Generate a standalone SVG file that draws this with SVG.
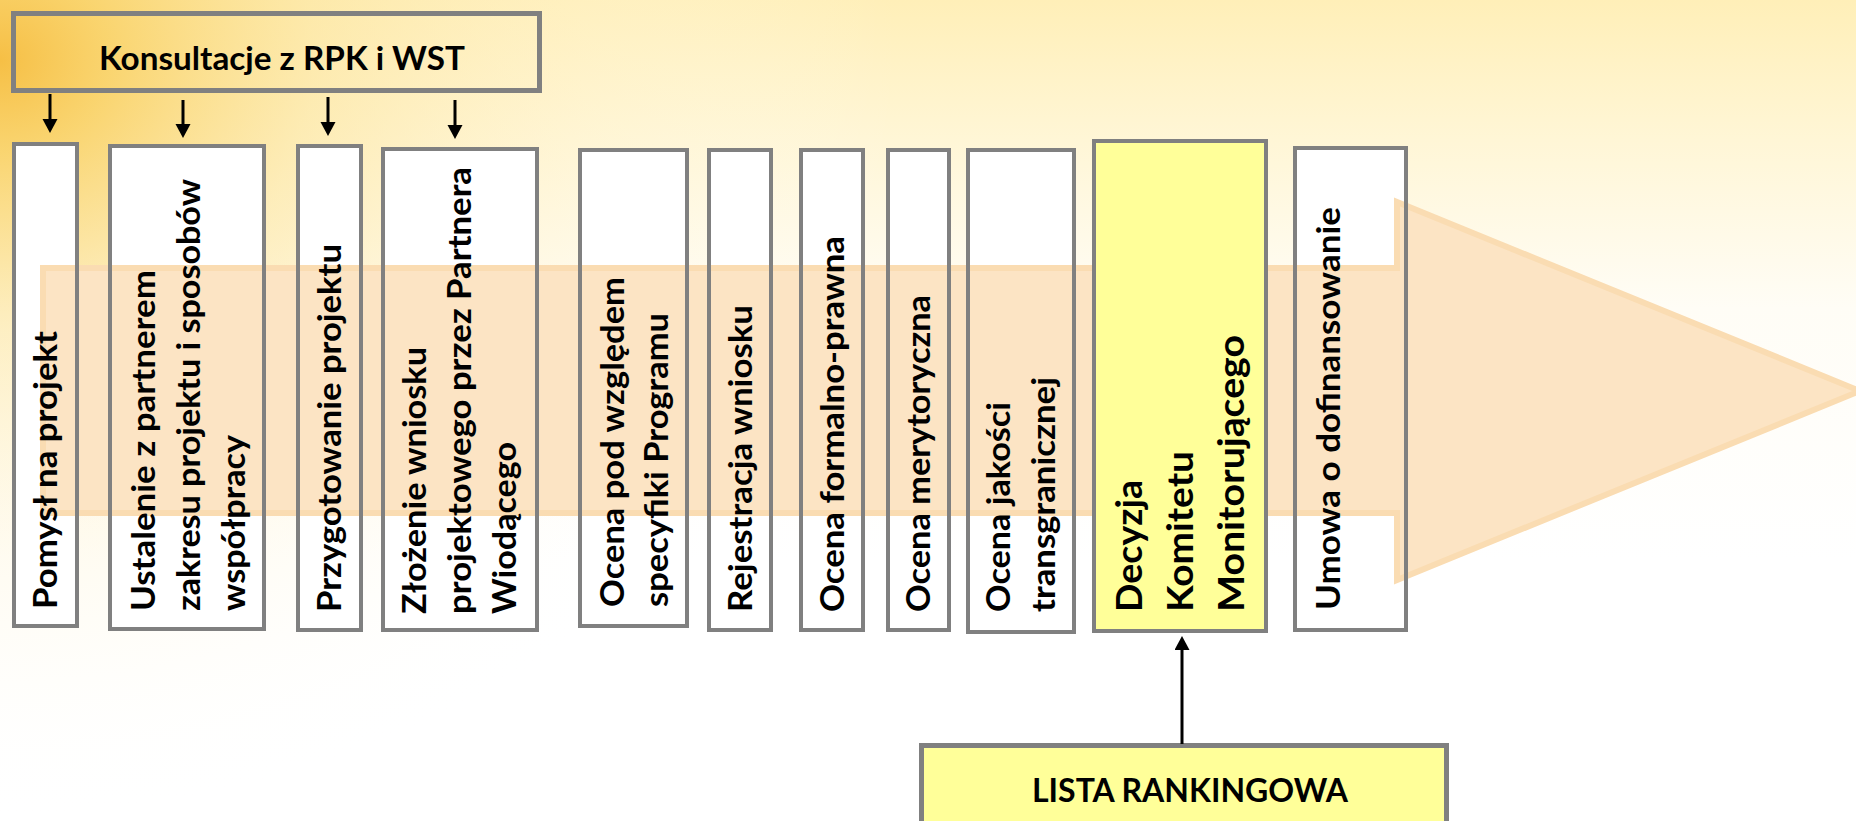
<svg xmlns="http://www.w3.org/2000/svg" width="1856" height="821" viewBox="0 0 1856 821">
  <defs>
    <linearGradient id="topBand" x1="0" y1="0" x2="0" y2="1" gradientUnits="objectBoundingBox">
      <stop offset="0" stop-color="#FFEFB8"/>
      <stop offset="0.25" stop-color="#FFF6D6"/>
      <stop offset="0.55" stop-color="#FFFDF6"/>
      <stop offset="1" stop-color="#FFFFFF"/>
    </linearGradient>
    <radialGradient id="glow" cx="0" cy="60" r="900" gradientUnits="userSpaceOnUse" gradientTransform="translate(0,60) scale(1,0.85) translate(0,-60)">
      <stop offset="0" stop-color="#F6BF45" stop-opacity="1"/>
      <stop offset="0.12" stop-color="#F9D165" stop-opacity="0.9"/>
      <stop offset="0.35" stop-color="#FCE59F" stop-opacity="0.6"/>
      <stop offset="0.65" stop-color="#FFF3D0" stop-opacity="0.3"/>
      <stop offset="1" stop-color="#FFFFFF" stop-opacity="0"/>
    </radialGradient>
    <marker id="arrow" markerUnits="userSpaceOnUse" markerWidth="16" markerHeight="16" refX="6" refY="7.5" orient="auto">
      <path d="M0,0 L14,7.5 L0,15 Z" fill="#000000"/>
    </marker>
    <style>
      .frame { fill: none; stroke: #808080; stroke-width: 4; }
      .fill { fill: #FFFFFF; }
      .yellow { fill: #FFFF99; stroke: #808080; stroke-width: 4; }
      .head { stroke: #808080; stroke-width: 5; }
      .t { font-family: Lato, "Liberation Sans", Arial, sans-serif; font-weight: bold; font-size: 33px; fill: #000000; }
      .tb { font-family: Lato, "Liberation Sans", Arial, sans-serif; font-weight: bold; font-size: 33px; fill: #000000; }
      .conn { stroke: #000000; stroke-width: 3; fill: none; }
    </style>
  </defs>

  <!-- background -->
  <rect x="0" y="0" width="1856" height="821" fill="#FFFFFF"/>
  <rect x="0" y="0" width="1856" height="560" fill="url(#topBand)"/>
  <rect x="0" y="0" width="1856" height="821" fill="url(#glow)"/>

  <!-- white box fills (under the flow arrow) -->
  <g id="box-fills" class="fill">
    <rect x="14" y="144" width="63" height="482"/>
    <rect x="110" y="146" width="154" height="483"/>
    <rect x="298" y="146" width="63" height="484"/>
    <rect x="383" y="149" width="154" height="481"/>
    <rect x="580" y="150" width="107" height="476"/>
    <rect x="709" y="150" width="62" height="480"/>
    <rect x="801" y="150" width="62" height="480"/>
    <rect x="888" y="150" width="61" height="480"/>
    <rect x="968" y="150" width="106" height="482"/>
    <rect x="1295" y="148" width="111" height="482"/>
  </g>

  <!-- big flow arrow -->
  <g id="flow-arrow">
    <polygon points="43,268 1397,268 1397,202 1860,391 1397,580 1397,513 43,513" fill="#FCE4C4" stroke="#FADCB2" stroke-width="6" stroke-linejoin="miter"/>
  </g>

  <!-- nodes -->
  <g id="konsultacje">
    <rect class="head" x="13.5" y="13.5" width="526" height="77" fill="none"/>
    <text class="tb" x="282" y="70" text-anchor="middle" textLength="366" lengthAdjust="spacingAndGlyphs">Konsultacje z RPK i WST</text>
  </g>

  <g id="pomysl">
    <rect class="frame" x="14" y="144" width="63" height="482"/>
    <text class="t" transform="translate(57,609) rotate(-90)" textLength="278" lengthAdjust="spacingAndGlyphs">Pomysł na projekt</text>
  </g>

  <g id="ustalenie">
    <rect class="frame" x="110" y="146" width="154" height="483"/>
    <text class="t" transform="translate(155,611) rotate(-90)" textLength="341" lengthAdjust="spacingAndGlyphs">Ustalenie z partnerem</text>
    <text class="t" transform="translate(200,611) rotate(-90)" textLength="432" lengthAdjust="spacingAndGlyphs">zakresu projektu i sposobów</text>
    <text class="t" transform="translate(245,611) rotate(-90)" textLength="176" lengthAdjust="spacingAndGlyphs">współpracy</text>
  </g>

  <g id="przygotowanie">
    <rect class="frame" x="298" y="146" width="63" height="484"/>
    <text class="t" transform="translate(341,612) rotate(-90)" textLength="368" lengthAdjust="spacingAndGlyphs">Przygotowanie projektu</text>
  </g>

  <g id="zlozenie">
    <rect class="frame" x="383" y="149" width="154" height="481"/>
    <text class="t" transform="translate(426,614) rotate(-90)" textLength="267" lengthAdjust="spacingAndGlyphs">Złożenie wniosku</text>
    <text class="t" transform="translate(471,614) rotate(-90)" textLength="447" lengthAdjust="spacingAndGlyphs">projektowego przez Partnera</text>
    <text class="t" transform="translate(516,614) rotate(-90)" textLength="172" lengthAdjust="spacingAndGlyphs">Wiodącego</text>
  </g>

  <g id="ocena-specyfiki">
    <rect class="frame" x="580" y="150" width="107" height="476"/>
    <text class="t" transform="translate(624,607) rotate(-90)" textLength="330" lengthAdjust="spacingAndGlyphs">Ocena pod względem</text>
    <text class="t" transform="translate(668,607) rotate(-90)" textLength="294" lengthAdjust="spacingAndGlyphs">specyfiki Programu</text>
  </g>

  <g id="rejestracja">
    <rect class="frame" x="709" y="150" width="62" height="480"/>
    <text class="t" transform="translate(752,612) rotate(-90)" textLength="307" lengthAdjust="spacingAndGlyphs">Rejestracja wniosku</text>
  </g>

  <g id="ocena-formalna">
    <rect class="frame" x="801" y="150" width="62" height="480"/>
    <text class="t" transform="translate(844,612) rotate(-90)" textLength="376" lengthAdjust="spacingAndGlyphs">Ocena formalno-prawna</text>
  </g>

  <g id="ocena-merytoryczna">
    <rect class="frame" x="888" y="150" width="61" height="480"/>
    <text class="t" transform="translate(930,612) rotate(-90)" textLength="317" lengthAdjust="spacingAndGlyphs">Ocena merytoryczna</text>
  </g>

  <g id="ocena-transgraniczna">
    <rect class="frame" x="968" y="150" width="106" height="482"/>
    <text class="t" transform="translate(1010,612) rotate(-90)" textLength="210" lengthAdjust="spacingAndGlyphs">Ocena jakości</text>
    <text class="t" transform="translate(1055,612) rotate(-90)" textLength="235" lengthAdjust="spacingAndGlyphs">transgranicznej</text>
  </g>

  <g id="decyzja">
    <rect class="yellow" x="1094" y="141" width="172" height="490"/>
    <text class="t" style="font-size:37px" transform="translate(1142,612) rotate(-90)" textLength="132" lengthAdjust="spacingAndGlyphs">Decyzja</text>
    <text class="t" style="font-size:37px" transform="translate(1193,612) rotate(-90)" textLength="161" lengthAdjust="spacingAndGlyphs">Komitetu</text>
    <text class="t" style="font-size:37px" transform="translate(1244,612) rotate(-90)" textLength="277" lengthAdjust="spacingAndGlyphs">Monitorującego</text>
  </g>

  <g id="umowa">
    <rect class="frame" x="1295" y="148" width="111" height="482"/>
    <text class="t" transform="translate(1340,610) rotate(-90)" textLength="403" lengthAdjust="spacingAndGlyphs">Umowa o dofinansowanie</text>
  </g>

  <g id="lista">
    <rect x="921.5" y="745.5" width="525" height="95" fill="#FFFF99" class="head"/>
    <text class="tb" x="1190" y="802" text-anchor="middle" textLength="316" lengthAdjust="spacingAndGlyphs">LISTA RANKINGOWA</text>
  </g>

  <!-- connectors -->
  <g id="connectors" class="conn">
    <line x1="50" y1="94" x2="50" y2="125" marker-end="url(#arrow)"/>
    <line x1="183" y1="100" x2="183" y2="130" marker-end="url(#arrow)"/>
    <line x1="328" y1="97" x2="328" y2="128" marker-end="url(#arrow)"/>
    <line x1="455" y1="100" x2="455" y2="131" marker-end="url(#arrow)"/>
    <line x1="1182" y1="744" x2="1182" y2="644" marker-end="url(#arrow)"/>
  </g>
</svg>
